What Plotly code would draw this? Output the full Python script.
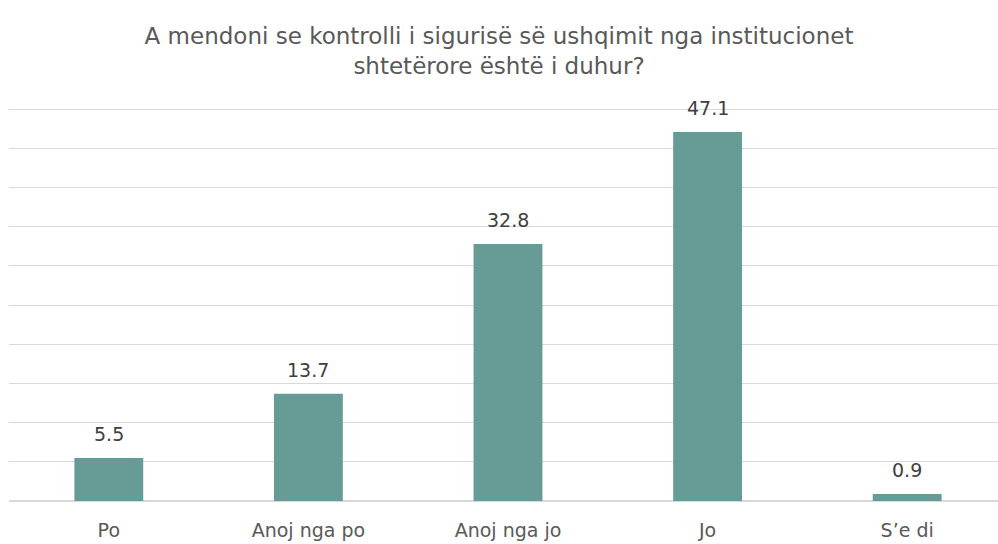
import plotly.graph_objects as go

# Survey answers and their shares (%)
categories = ["Po", "Anoj nga po", "Anoj nga jo", "Jo", "S\u2019e di"]
values = [5.5, 13.7, 32.8, 47.1, 0.9]
labels = ["5.5", "13.7", "32.8", "47.1", "0.9"]

title_text = ("A mendoni se kontrolli i sigurisë së ushqimit nga institucionet"
              "<br>shtetërore është i duhur?")

BAR_COLOR = "#679C96"
GRID_COLOR = "#D9D9D9"
FONT = "'DejaVu Sans', sans-serif"

x_pos = list(range(len(categories)))

fig = go.Figure(
    go.Bar(
        x=x_pos,
        y=values,
        marker=dict(color=BAR_COLOR, line=dict(width=0)),
        width=0.345,
        hoverinfo="skip",
    )
)

# value labels above each bar
for xi, v, t in zip(x_pos, values, labels):
    fig.add_annotation(
        x=xi, y=v, text=t, showarrow=False,
        xanchor="center", yanchor="middle", yshift=24,
        font=dict(size=19, color="#404040", family=FONT),
    )

fig.update_layout(
    width=998,
    height=544,
    margin=dict(l=9, r=0, t=108, b=43),
    paper_bgcolor="white",
    plot_bgcolor="white",
    showlegend=False,
    title=dict(
        text=title_text,
        x=0.5,
        xanchor="center",
        y=1 - 44 / 544,
        yanchor="middle",
        font=dict(size=23, color="#595959", family=FONT),
    ),
    xaxis=dict(
        range=[-0.5, 4.455],
        tickmode="array",
        tickvals=x_pos,
        ticktext=categories,
        tickfont=dict(size=19, color="#595959", family=FONT),
        ticklabelstandoff=16,
        showgrid=False,
        zeroline=False,
        showline=False,
        ticks="",
        ticklen=0,
    ),
    yaxis=dict(
        range=[0, 50.15],
        tickmode="array",
        tickvals=[0, 5, 10, 15, 20, 25, 30, 35, 40, 45, 50],
        showticklabels=False,
        showgrid=True,
        gridcolor=GRID_COLOR,
        gridwidth=1.3,
        zeroline=True,
        zerolinecolor=GRID_COLOR,
        zerolinewidth=1.5,
        showline=False,
        ticks="",
    ),
)

fig.write_html("out.html")
